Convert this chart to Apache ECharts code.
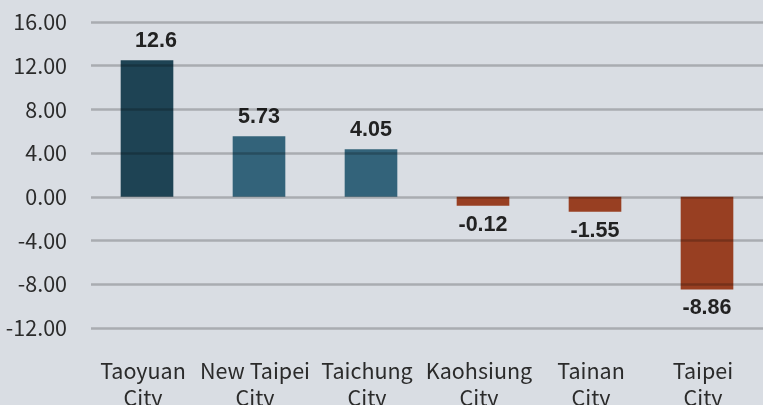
<!DOCTYPE html>
<html><head><meta charset="utf-8">
<script src="https://cdn.jsdelivr.net/npm/echarts@6/dist/echarts.min.js"></script>
<style>html,body{margin:0;padding:0;background:#d9dde3;}#c{width:763px;height:405px;}</style>
</head><body><div id="c"></div>
<script>
var categories = ["Taoyuan\nCity", "New Taipei\nCity", "Taichung\nCity", "Kaohsiung\nCity", "Tainan\nCity", "Taipei\nCity"];
var barValues = [12.5, 5.55, 4.36, -0.82, -1.37, -8.48];
var labelTexts = ["12.6", "5.73", "4.05", "-0.12", "-1.55", "-8.86"];
var barColors = ["#1e4354", "#33637a", "#33637a", "#983f22", "#983f22", "#983f22"];
var yTicks = { min: -12, max: 16, interval: 4 };

var chart = echarts.init(document.getElementById('c'));
var data = barValues.map(function (v, i) {
  return {
    value: v,
    itemStyle: { color: barColors[i] },
    label: { position: v >= 0 ? 'top' : 'bottom', offset: i === 0 ? [9, 0] : [0, 0] }
  };
});
chart.setOption({
  backgroundColor: '#d9dde3',
  animation: false,
  grid: { left: 91, right: 0, top: 22, bottom: 77, containLabel: false, outerBoundsMode: 'none' },
  xAxis: {
    type: 'category',
    data: categories,
    axisLine: { show: false },
    axisTick: { show: false },
    axisLabel: { fontFamily: 'Noto Sans CJK TC', fontSize: 21.5, color: '#2b2b2b', lineHeight: 27, margin: 29, interval: 0,
      padding: [0, 8, 0, 0] }
  },
  yAxis: {
    type: 'value',
    min: yTicks.min, max: yTicks.max, interval: yTicks.interval,
    z: 5,
    axisLine: { show: false },
    axisTick: { show: false },
    splitLine: { lineStyle: { color: 'rgba(0,0,0,0.22)', width: 2.5 } },
    axisLabel: { fontFamily: 'Noto Sans CJK TC', fontSize: 21.5, color: '#2b2b2b', margin: 24,
      formatter: function (v) { return v.toFixed(2); } }
  },
  series: [{
    type: 'bar',
    data: data,
    barWidth: '47%',
    label: {
      show: true,
      distance: 8,
      fontFamily: 'Liberation Sans',
      fontWeight: 'bold',
      fontSize: 21.5,
      color: '#222222',
      formatter: function (p) { return labelTexts[p.dataIndex]; }
    }
  }]
});
</script></body></html>
